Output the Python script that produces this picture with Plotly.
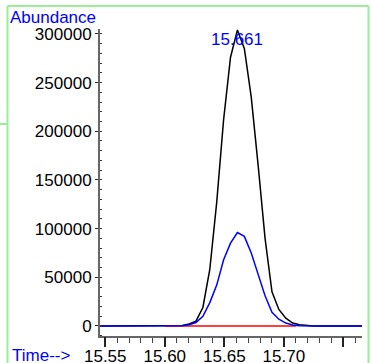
import plotly.graph_objects as go

# Sample times (min)
times = [15.5456, 15.5508, 15.5566, 15.5624, 15.5682, 15.5740, 15.5798, 15.5856,
         15.5914, 15.5972, 15.6030, 15.6088, 15.6146, 15.6204, 15.6262, 15.6320,
         15.6378, 15.6436, 15.6494, 15.6552, 15.6610, 15.6668, 15.6726, 15.6784,
         15.6842, 15.6900, 15.6958, 15.7016, 15.7074, 15.7132, 15.7190, 15.7248,
         15.7306, 15.7364, 15.7422, 15.7480, 15.7538, 15.7596, 15.7656]

# Abundances
black_vals = [0, 0, 0, 0, 0, 0, 0, 0,
              0, 0, 0, 200, 500, 2000, 5000, 19000,
              58000, 127000, 212000, 276000, 304000, 285000, 235000, 165000,
              90000, 35000, 17000, 8000, 3000, 1200, 400, 0,
              0, 0, 0, 0, 0, 0, 0]

blue_vals = [0, 0, 0, 0, 0, 0, 0, 0,
             0, 0, 0, 0, 300, 1200, 3500, 10000,
             24000, 42000, 68000, 85000, 96000, 92000, 75000, 53000,
             31000, 14000, 7000, 3000, 1100, 300, 0, 0,
             0, 0, 0, 0, 500, 0, 0]

red_times = [15.600, 15.710]
red_vals = [0, 0]

peak_time = 15.661
peak_label = "15.661"

x_tickvals = [15.55, 15.60, 15.65, 15.70]
x_ticktext = ["15.55", "15.60", "15.65", "15.70"]
x_major_ticks = [15.55, 15.60, 15.65, 15.70, 15.75]
y_tickvals = [0, 50000, 100000, 150000, 200000, 250000, 300000]
y_ticktext = ["0", "50000", "100000", "150000", "200000", "250000", "300000"]

X_RANGE = [15.5456, 15.7656]
FONT = "Liberation Sans, Arial, sans-serif"

fig = go.Figure()
fig.add_trace(go.Scatter(x=times, y=black_vals, mode="lines",
                         line=dict(color="#000000", width=1.5), showlegend=False))
fig.add_trace(go.Scatter(x=red_times, y=red_vals, mode="lines",
                         line=dict(color="#ff0000", width=1.6), showlegend=False))
fig.add_trace(go.Scatter(x=times, y=blue_vals, mode="lines",
                         line=dict(color="#0000ff", width=1.5), showlegend=False))

fig.add_annotation(x=peak_time, y=294000, text=peak_label, showarrow=False,
                   font=dict(family=FONT, size=17, color="#0000ff"),
                   xanchor="center", yanchor="middle")
fig.add_annotation(xref="paper", yref="paper", x=-0.352, y=1.036, text="Abundance",
                   showarrow=False, xanchor="left", yanchor="middle",
                   font=dict(family=FONT, size=17, color="#0000ff"))
fig.add_annotation(xref="paper", yref="paper", x=-0.345, y=-0.062, text="Time-->",
                   showarrow=False, xanchor="left", yanchor="middle",
                   font=dict(family=FONT, size=17, color="#0000ff"))

green = "#99ee99"
for (x0, y0, x1, y1) in [(-0.3531, 1.0749, -0.3531, -0.09),
                         (-0.3531, 1.0749, 1.0248, 1.0749),
                         (1.0248, 1.0749, 1.0248, -0.09),
                         (-0.39, 0.6906, -0.3531, 0.6906)]:
    fig.add_shape(type="line", xref="paper", yref="paper", x0=x0, y0=y0, x1=x1, y1=y1,
                  line=dict(color=green, width=2))

fig.update_layout(
    width=371, height=363,
    margin=dict(l=100, r=9, t=29, b=27, autoexpand=False),
    paper_bgcolor="white", plot_bgcolor="white",
    font=dict(family=FONT, size=17, color="#000000"),
    xaxis=dict(range=X_RANGE, showgrid=False, zeroline=False, automargin=False,
               showline=True, linecolor="#666666", linewidth=2,
               ticks="outside", ticklen=4, tickwidth=1.2, tickcolor="#444444",
               tickvals=x_tickvals, ticktext=x_ticktext,
               minor=dict(ticks="outside", ticklen=5, tickwidth=1.2,
                          tickcolor="#444444", dtick=0.01, showgrid=False),
               tickfont=dict(family=FONT, size=17, color="#000000")),
    xaxis2=dict(range=X_RANGE, overlaying="x", side="bottom", anchor="y",
                showgrid=False, zeroline=False, automargin=False, showline=False,
                ticks="outside", ticklen=10, tickwidth=1.5, tickcolor="#222222",
                tickvals=x_major_ticks, showticklabels=False),
    yaxis=dict(range=[-10300, 305000], showgrid=False, zeroline=False, automargin=False,
               showline=True, linecolor="#666666", linewidth=2,
               ticks="outside", ticklen=3, tickwidth=1.2, tickcolor="#222222",
               tickvals=y_tickvals, ticktext=y_ticktext,
               minor=dict(ticks="inside", ticklen=2, tickwidth=1,
                          tickcolor="#333333", dtick=10000, showgrid=False),
               tickfont=dict(family=FONT, size=17, color="#000000")),
)
# invisible trace to activate the major-tick overlay axis
fig.add_trace(go.Scatter(x=[X_RANGE[0]], y=[0], xaxis="x2", mode="markers",
                         marker=dict(opacity=0), hoverinfo="skip", showlegend=False))

fig.write_html("out.html", config={"displayModeBar": False},
               post_script="document.body.style.margin='0';")
